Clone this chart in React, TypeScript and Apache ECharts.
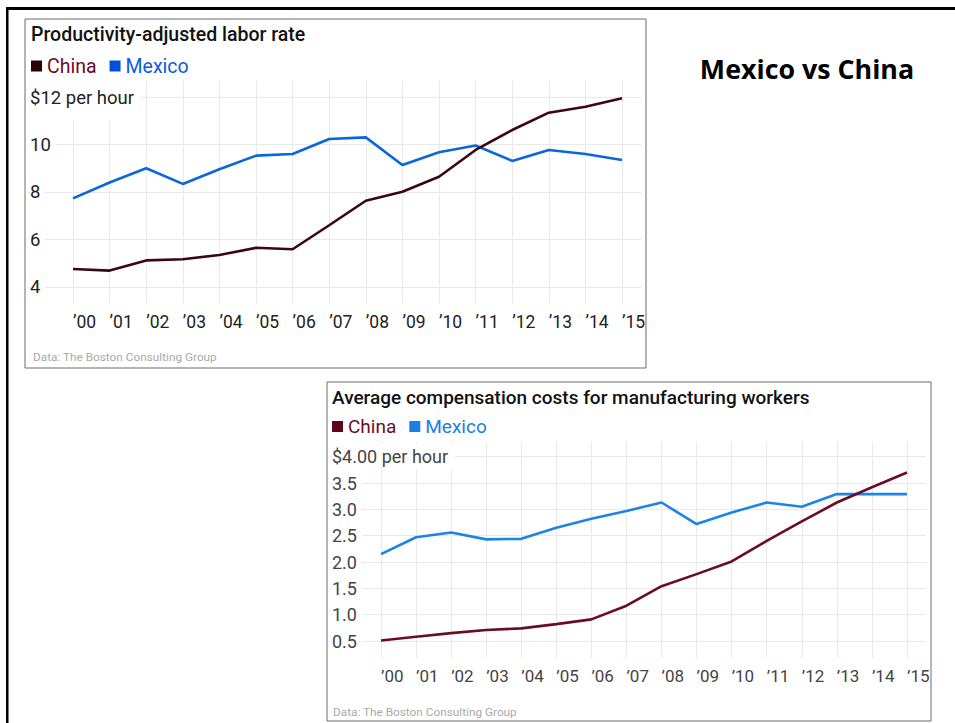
import React, { useEffect, useRef } from "react";
import * as echarts from "echarts";

const years = ["’00", "’01", "’02", "’03", "’04", "’05", "’06", "’07", "’08", "’09", "’10", "’11", "’12", "’13", "’14", "’15"];

const laborChina = [4.76, 4.69, 5.12, 5.17, 5.35, 5.65, 5.59, 6.6, 7.63, 8.01, 8.64, 9.77, 10.61, 11.34, 11.59, 11.95];
const laborMexico = [7.73, 8.4, 9.0, 8.34, 8.96, 9.53, 9.6, 10.23, 10.3, 9.14, 9.67, 9.96, 9.31, 9.77, 9.6, 9.35];

const compChina = [0.51, 0.58, 0.65, 0.71, 0.74, 0.82, 0.91, 1.17, 1.54, 1.77, 2.01, 2.4, 2.77, 3.13, 3.42, 3.7];
const compMexico = [2.15, 2.47, 2.56, 2.43, 2.44, 2.65, 2.82, 2.97, 3.13, 2.72, 2.94, 3.13, 3.05, 3.29, 3.29, 3.29];

const laborTicks = { min: 4, max: 12, interval: 2, topLabel: "$12 per hour" };
const compTicks = { min: 0.5, max: 4, interval: 0.5, topLabel: "$4.00 per hour" };

const FONT = "Roboto";
const GRID_COLOR = "#e9e9e9";

export default function App() {
  const ref = useRef<HTMLDivElement>(null);

  useEffect(() => {
    if (!ref.current) return;
    const chart = echarts.init(ref.current, null, { renderer: "svg" });

    const option: any = {
      animation: false,
      backgroundColor: "#fff",
      textStyle: { fontFamily: FONT },
      legend: [
        {
          left: 31,
          top: 56,
          padding: 0,
          icon: "rect",
          itemWidth: 11,
          itemHeight: 11,
          itemGap: 13,
          textStyle: { fontSize: 19.5, fontFamily: FONT },
          data: [
            { name: "China", itemStyle: { color: "#2a0008" }, textStyle: { color: "#6a0a28" } },
            { name: "Mexico", itemStyle: { color: "#0050dc" }, textStyle: { color: "#0a5ce0" } },
          ],
          selectedMode: false,
        },
        {
          left: 332,
          top: 417,
          padding: 0,
          icon: "rect",
          itemWidth: 11,
          itemHeight: 11,
          itemGap: 13,
          textStyle: { fontSize: 19, fontFamily: FONT },
          data: [
            { name: "China", itemStyle: { color: "#5e0618" }, textStyle: { color: "#6e0c26" } },
            { name: "Mexico", itemStyle: { color: "#1a80e2" }, textStyle: { color: "#1a80e2" } },
          ],
          selectedMode: false,
        },
      ],
      grid: [
        { left: 28, right: 955 - 641, top: 97, bottom: 723 - 287 },
        { left: 73, right: 955 - 622, top: 81, bottom: 723 - 303 },
        { left: 330, right: 955 - 926, top: 456.7, bottom: 723 - 641 },
        { left: 381, right: 955 - 907, top: 441.7, bottom: 723 - 658 },
      ],
      xAxis: [
        { gridIndex: 0, type: "value", show: false },
        {
          gridIndex: 1,
          type: "category",
          data: years,
          boundaryGap: false,
          axisLine: { show: false },
          axisTick: { show: false },
          splitLine: { show: true, interval: 0, lineStyle: { color: GRID_COLOR, width: 1 } },
          axisLabel: { interval: 0, margin: 10, fontSize: 17.5, color: "#222", fontFamily: FONT, align: "left" },
        },
        { gridIndex: 2, type: "value", show: false },
        {
          gridIndex: 3,
          type: "category",
          data: years,
          boundaryGap: false,
          axisLine: { show: false },
          axisTick: { show: false },
          splitLine: { show: true, interval: 0, lineStyle: { color: GRID_COLOR, width: 1 } },
          axisLabel: { interval: 0, margin: 9, fontSize: 17, color: "#444", fontFamily: FONT, align: "left" },
        },
      ],
      yAxis: [
        {
          gridIndex: 0,
          type: "value",
          min: laborTicks.min,
          max: laborTicks.max,
          interval: laborTicks.interval,
          axisLine: { show: false },
          axisTick: { show: false },
          splitLine: { show: true, lineStyle: { color: GRID_COLOR, width: 1 } },
          axisLabel: {
            inside: true,
            margin: 2,
            showMaxLabel: true,
            showMinLabel: true,
            formatter: (v: number) => (v === laborTicks.max ? `{top|${laborTicks.topLabel}}` : `{n|${v}}`),
            rich: {
              top: { fontSize: 18.5, color: "#222", fontFamily: FONT, backgroundColor: "#fff", padding: [14, 7, 13, 0] },
              n: { fontSize: 18.5, color: "#222", fontFamily: FONT, backgroundColor: "#fff", padding: [2, 5, 2, 0] },
            },
          },
        },
        { gridIndex: 1, type: "value", min: 3.326, max: 12.674, show: false },
        {
          gridIndex: 2,
          type: "value",
          min: compTicks.min,
          max: compTicks.max,
          interval: compTicks.interval,
          axisLine: { show: false },
          axisTick: { show: false },
          splitLine: { show: true, lineStyle: { color: GRID_COLOR, width: 1 } },
          axisLabel: {
            inside: true,
            margin: 2,
            showMaxLabel: true,
            showMinLabel: true,
            hideOverlap: false,
            formatter: (v: number) => (Math.abs(v - compTicks.max) < 1e-6 ? `{top|${compTicks.topLabel}}` : `{n|${v.toFixed(1)}}`),
            rich: {
              top: { fontSize: 18, color: "#444", fontFamily: FONT, backgroundColor: "#fff", padding: [4, 7, 4, 0] },
              n: { fontSize: 18, color: "#444", fontFamily: FONT, backgroundColor: "#fff", padding: [0, 5, 0, 0] },
            },
          },
        },
        { gridIndex: 3, type: "value", min: 0.177, max: 4.285, show: false },
      ],
      series: [
        {
          name: "Mexico",
          type: "line",
          xAxisIndex: 1,
          yAxisIndex: 1,
          data: laborMexico,
          showSymbol: false,
          lineStyle: { color: "#0a66dd", width: 2.6 },
          itemStyle: { color: "#0050dc" },
        },
        {
          name: "China",
          type: "line",
          xAxisIndex: 1,
          yAxisIndex: 1,
          data: laborChina,
          showSymbol: false,
          lineStyle: { color: "#3a0614", width: 2.6 },
          itemStyle: { color: "#2a0008" },
        },
        {
          name: "Mexico",
          type: "line",
          xAxisIndex: 3,
          yAxisIndex: 3,
          data: compMexico,
          showSymbol: false,
          lineStyle: { color: "#1a85e6", width: 2.6 },
          itemStyle: { color: "#1a80e2" },
        },
        {
          name: "China",
          type: "line",
          xAxisIndex: 3,
          yAxisIndex: 3,
          data: compChina,
          showSymbol: false,
          lineStyle: { color: "#6a0c24", width: 2.6 },
          itemStyle: { color: "#5e0618" },
        },
      ],
      graphic: [
        { type: "rect", shape: { x: 6, y: 7, width: 960, height: 3 }, style: { fill: "#000" }, silent: true },
        { type: "rect", shape: { x: 6, y: 7, width: 2.5, height: 730 }, style: { fill: "#000" }, silent: true },
        { type: "rect", shape: { x: 25, y: 19, width: 621, height: 349 }, style: { fill: "none", stroke: "#6a6a6a", lineWidth: 1 }, z: -1, silent: true },
        { type: "rect", shape: { x: 327, y: 382, width: 604, height: 339 }, style: { fill: "none", stroke: "#6a6a6a", lineWidth: 1 }, z: -1, silent: true },
        {
          type: "text",
          x: 31,
          y: 34,
          style: { text: "Productivity-adjusted labor rate", font: `500 19.5px ${FONT}`, fill: "#111", textVerticalAlign: "middle" },
        },
        {
          type: "text",
          x: 332,
          y: 397,
          style: { text: "Average compensation costs for manufacturing workers", font: `500 19px ${FONT}`, fill: "#111", textVerticalAlign: "middle" },
        },
        {
          type: "text",
          x: 33,
          y: 357,
          style: { text: "Data: The Boston Consulting Group", font: `11.8px ${FONT}`, fill: "#aaa", textVerticalAlign: "middle" },
        },
        {
          type: "text",
          x: 333,
          y: 712,
          style: { text: "Data: The Boston Consulting Group", font: `11.8px ${FONT}`, fill: "#aaa", textVerticalAlign: "middle" },
        },
        {
          type: "text",
          x: 807,
          y: 68,
          style: { text: "Mexico vs China", font: `bold 26.8px 'Open Sans'`, fill: "#000", textAlign: "center", textVerticalAlign: "middle" },
        },
      ],
    };

    chart.setOption(option);
    return () => chart.dispose();
  }, []);

  return <div ref={ref} style={{ position: "fixed", left: 0, top: 0, width: 955, height: 723 }} />;
}
